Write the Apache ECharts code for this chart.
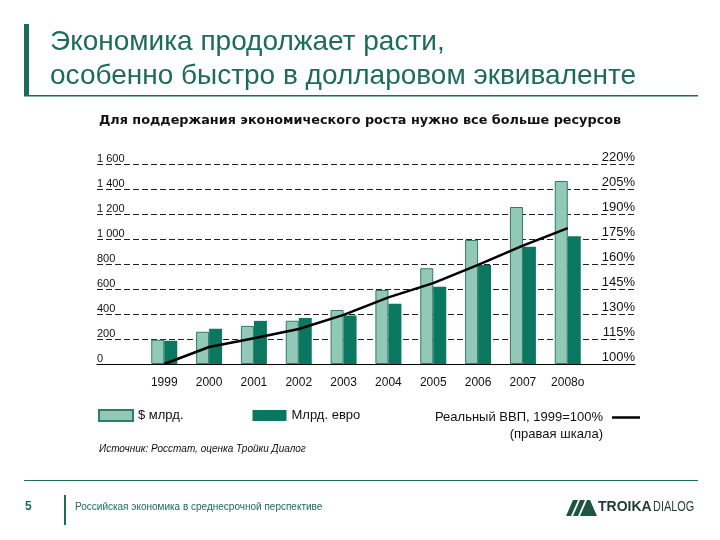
<!DOCTYPE html>
<html>
<head>
<meta charset="utf-8">
<script src="https://cdn.jsdelivr.net/npm/echarts@6/dist/echarts.min.js"></script>
<style>
html,body{margin:0;padding:0;background:#fff;}
#c{width:720px;height:540px;}
</style>
</head>
<body>
<div id="c"></div>
<script>
// ---- data ----
var years = ['1999','2000','2001','2002','2003','2004','2005','2006','2007','2008о'];
var usdBn = [194, 258, 305, 346, 432, 592, 766, 992, 1256, 1464];
var eurBn = [186, 282, 345, 368, 388, 482, 618, 792, 938, 1023];
var realGdp = [100, 110.2, 115.5, 121.0, 129.5, 140.0, 148.5, 159.5, 171.0, 181.5];
var leftTicks = [0, 200, 400, 600, 800, 1000, 1200, 1400, 1600];
var rightTicks = [100, 115, 130, 145, 160, 175, 190, 205, 220];

var seriesNames = ['$ млрд.', 'Млрд. евро', 'Реальный ВВП, 1999=100%'];

// pad with empty categories at both ends (chart area is wider than the category band)
function pad(a, v){ return [v].concat(a).concat([v]); }
var cats = pad(years, '');

var teal = '#1c6b5b';
var chart = echarts.init(document.getElementById('c'), null, {renderer:'canvas'});
var font = 'Liberation Sans, Arial, sans-serif';

function fmtThousands(v){
  var s = String(v);
  if (s.length > 3) s = s.slice(0, s.length-3) + ' ' + s.slice(s.length-3);
  return s;
}

var option = {
  backgroundColor: '#ffffff',
  animation: false,
  textStyle: {fontFamily: font},
  grid: {left: 97, top: 164, width: 538, height: 200, containLabel: false},
  xAxis: {
    type: 'category',
    data: cats,
    boundaryGap: true,
    axisLine: {lineStyle: {color: '#000', width: 1}},
    axisTick: {length: 5, lineStyle: {color: '#000'}, interval: function(i){ return i >= 1 && i <= 11; }},
    axisLabel: {color: '#111', fontSize: 12, margin: 13, interval: 0, fontFamily: font}
  },
  yAxis: [
    {
      type: 'value', min: leftTicks[0], max: leftTicks[leftTicks.length-1], interval: 200,
      axisLine: {show: false}, axisTick: {show: false},
      splitLine: {show: true, lineStyle: {color: '#222', type: [6, 3], width: 1}},
      axisLabel: {inside: true, align: 'left', verticalAlign: 'bottom', margin: 0, fontSize: 11, color: '#111',
        formatter: function(v){ return v === 0 ? '0' : fmtThousands(v); }, fontFamily: font,
        showMinLabel: true, showMaxLabel: true}
    },
    {
      type: 'value', min: rightTicks[0], max: rightTicks[rightTicks.length-1], interval: 15,
      axisLine: {show: false}, axisTick: {show: false}, splitLine: {show: false},
      axisLabel: {inside: true, align: 'right', verticalAlign: 'bottom', margin: 0, fontSize: 13, color: '#111',
        formatter: '{value}%', fontFamily: font, showMinLabel: true, showMaxLabel: true}
    }
  ],
  legend: [
    {
      data: [{name: seriesNames[0], icon: 'rect'}, {name: seriesNames[1], icon: 'rect'}],
      left: 93, top: 404, itemWidth: 34, itemHeight: 11, itemGap: 69,
      textStyle: {fontSize: 13, color: '#111', fontFamily: font, padding: [3, 0, 0, 0]}, selectedMode: false
    },
    {
      data: [{name: seriesNames[2], icon: 'rect', itemStyle: {color: '#000'}}],
      right: 75, top: 406, align: 'right', itemWidth: 28, itemHeight: 2.5,
      textStyle: {fontSize: 13, color: '#111', fontFamily: font, padding: [0, 4, 0, 0]}, selectedMode: false
    }
  ],
  series: [
    {
      name: seriesNames[0], type: 'bar', data: pad(usdBn, null), barWidth: 13, barGap: '0%',
      itemStyle: {color: '#92c8b6', borderColor: '#2f7c68', borderWidth: 1}
    },
    {
      name: seriesNames[1], type: 'bar', data: pad(eurBn, null), barWidth: 13, barGap: '0%',
      itemStyle: {color: '#0b7760'}
    },
    {
      name: seriesNames[2], type: 'line', yAxisIndex: 1, data: pad(realGdp, null),
      symbol: 'none', lineStyle: {color: '#000', width: 2.5}, itemStyle: {color: '#000'},
      z: 5
    }
  ],
  graphic: [
    // header
    {type: 'rect', left: 24, top: 24, shape: {width: 5, height: 72}, style: {fill: teal}},
    {type: 'rect', left: 24, top: 95, shape: {width: 674, height: 1.5}, style: {fill: teal}},
    {type: 'text', left: 50, top: 28, style: {text: 'Экономика продолжает расти,', fill: teal, font: '28px ' + font}},
    {type: 'text', left: 50, top: 62, style: {text: 'особенно быстро в долларовом эквиваленте', fill: teal, font: '28px ' + font}},
    // chart title
    {type: 'text', left: 'center', top: 114, style: {text: 'Для поддержания экономического роста нужно все больше ресурсов', fill: '#111', font: 'bold 12.8px DejaVu Sans, sans-serif'}},
    // legend second line
    {type: 'text', right: 117, top: 428, style: {text: '(правая шкала)', fill: '#111', font: '13px ' + font}},
    // source
    {type: 'text', left: 99, top: 444, style: {text: 'Источник: Росстат, оценка Тройки Диалог', fill: '#111', font: 'italic 10px ' + font}},
    // footer
    {type: 'rect', left: 24, top: 480, shape: {width: 674, height: 1}, style: {fill: teal}},
    {type: 'text', left: 25, top: 501, style: {text: '5', fill: teal, font: 'bold 12px ' + font}},
    {type: 'rect', left: 64, top: 495, shape: {width: 2, height: 30}, style: {fill: teal}},
    {type: 'text', left: 75, top: 502, style: {text: 'Российская экономика в среднесрочной перспективе', fill: teal, font: '10px ' + font}},
    // logo
    {type: 'polygon', shape: {points: [[566,516],[573,500],[578,500],[571,516]]}, style: {fill: '#1e5540'}},
    {type: 'polygon', shape: {points: [[573,516],[580,500],[585,500],[578,516]]}, style: {fill: '#1e5540'}},
    {type: 'polygon', shape: {points: [[580,516],[587,500],[590,500],[597,516]]}, style: {fill: '#1e5540'}},
    {type: 'text', x: 598, y: 500, style: {text: 'TROIKA', fill: '#1e3d30', font: 'bold 14px ' + font}},
    {type: 'text', x: 653, y: 500, scaleX: 0.78, style: {text: 'DIALOG', fill: '#1e3d30', font: '14px ' + font}}
  ]
};
chart.setOption(option);
</script>
</body>
</html>
